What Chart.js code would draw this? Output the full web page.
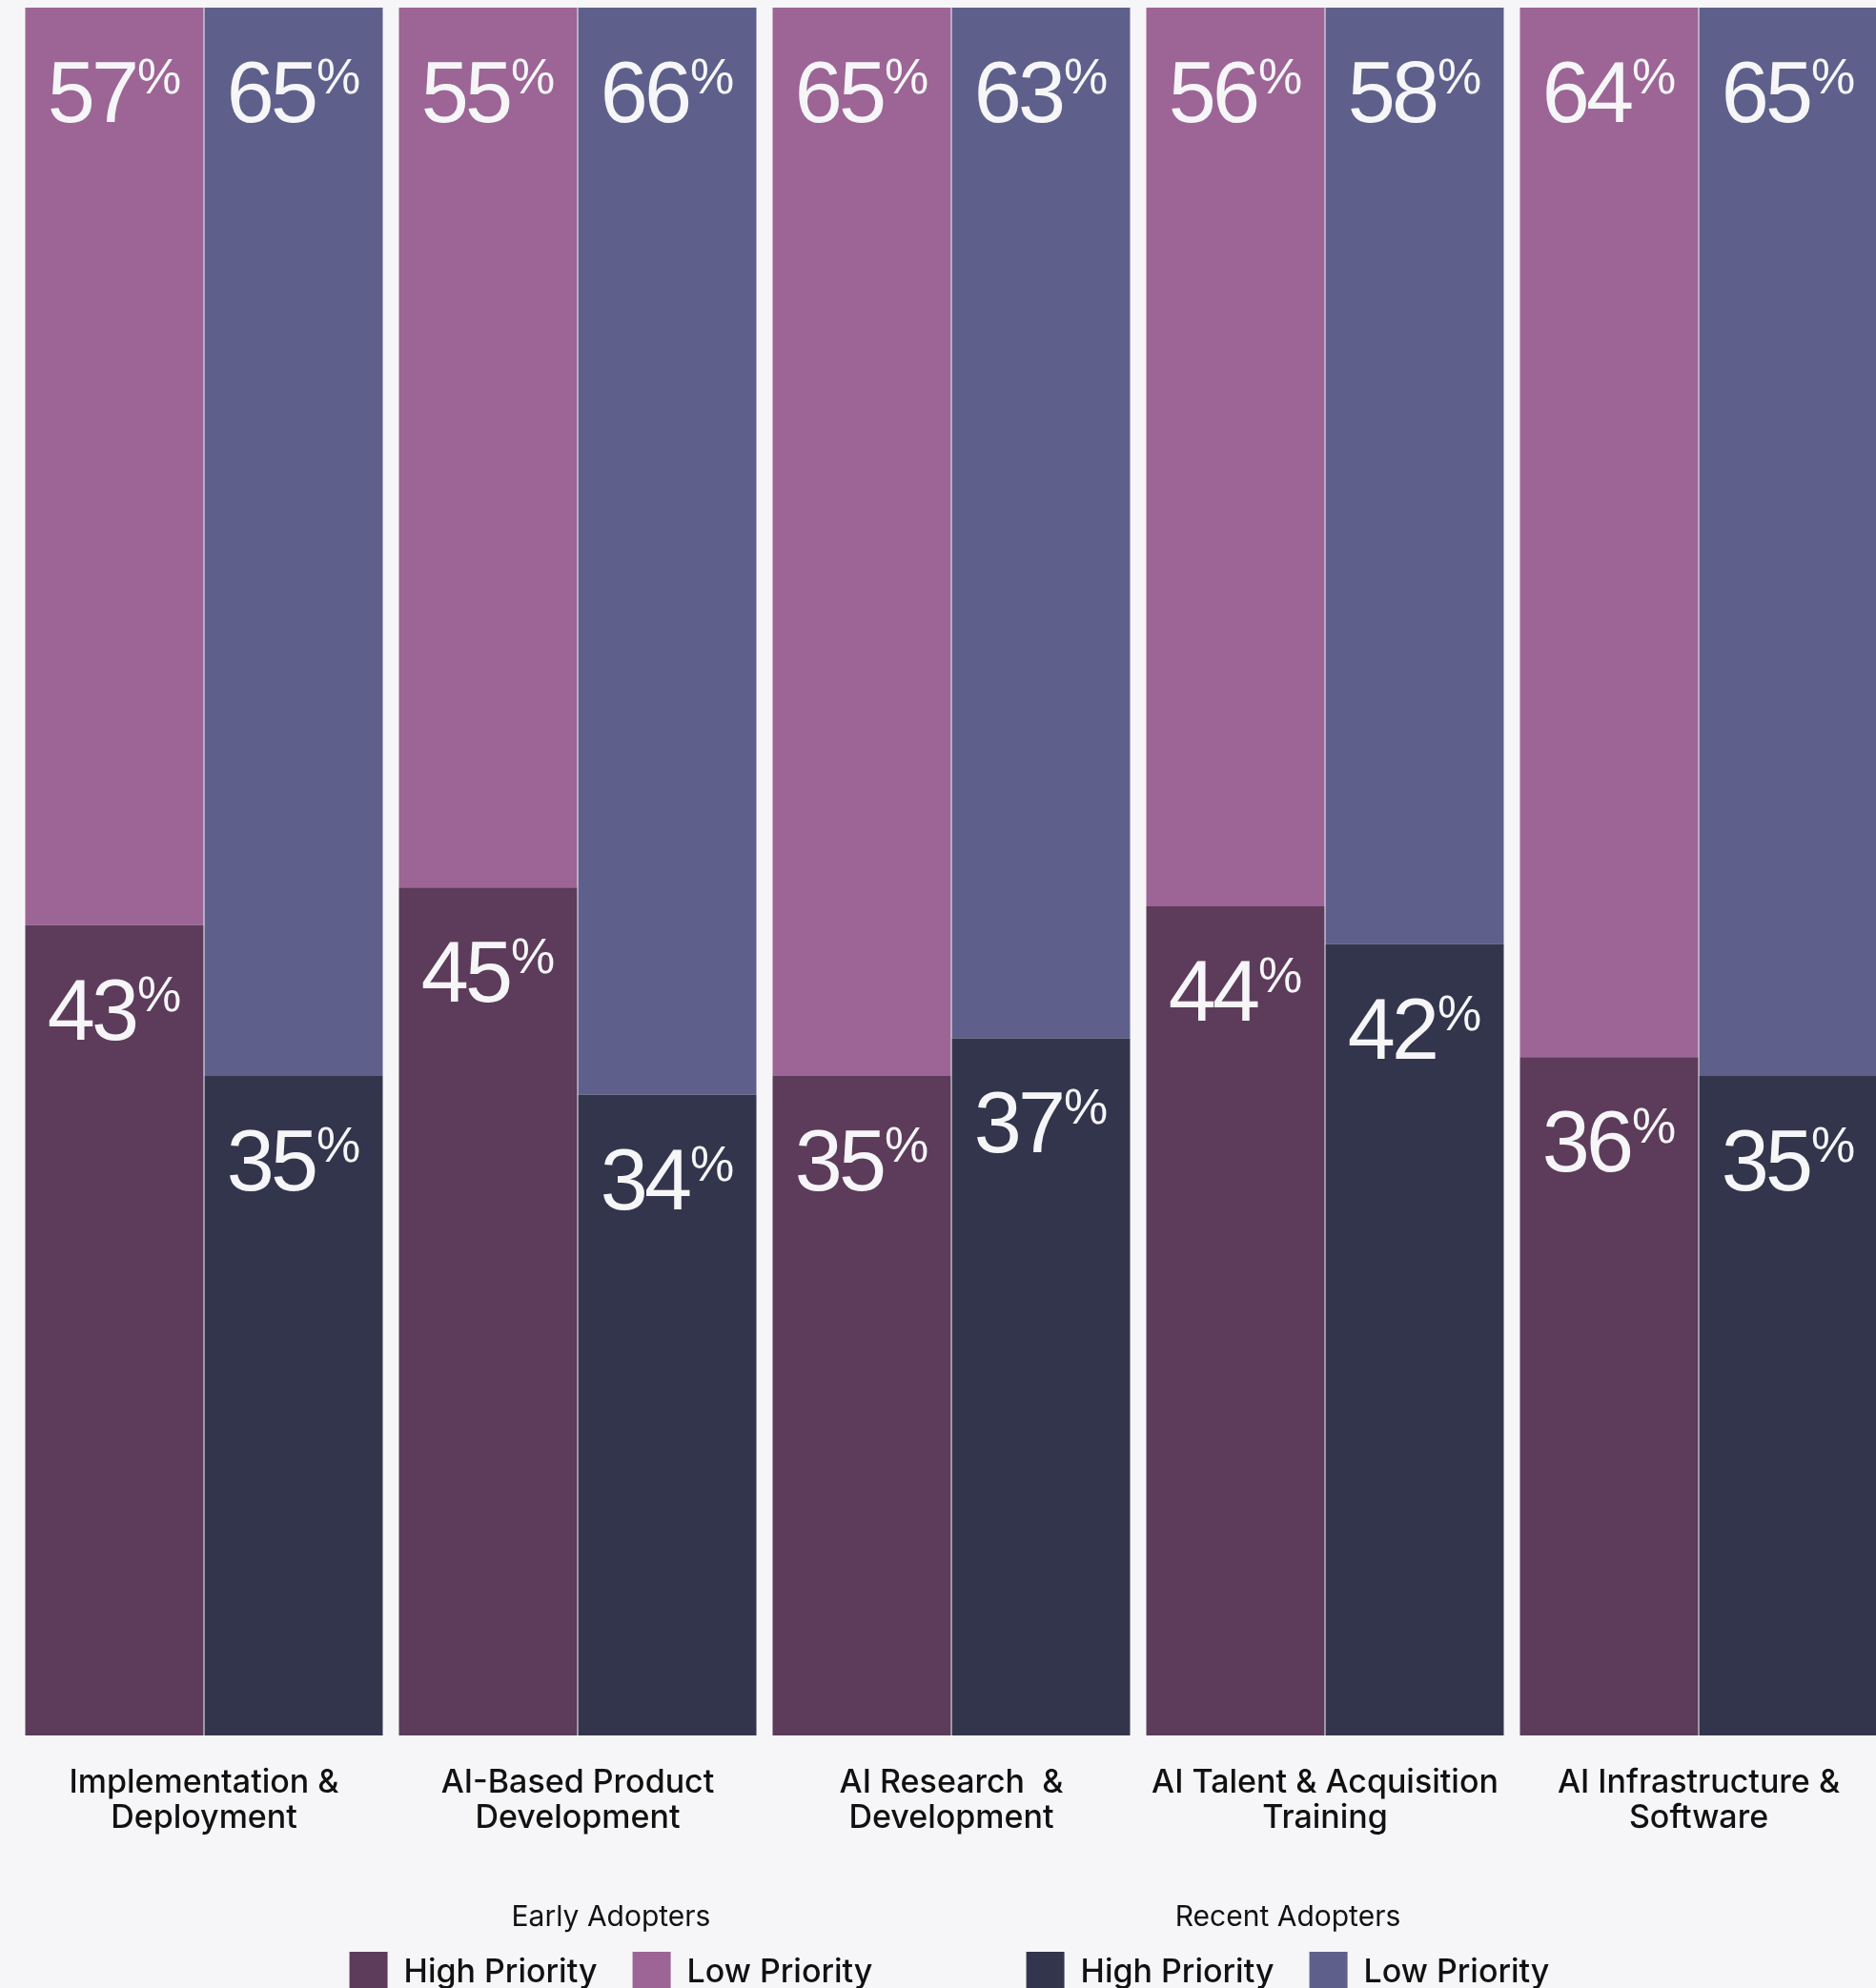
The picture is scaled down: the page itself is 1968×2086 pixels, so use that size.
<!DOCTYPE html>
<html lang="en">
<head>
  <meta charset="UTF-8" />
  <title>AI Investment Priorities</title>
  <style>
    html, body { margin: 0; padding: 0; overflow: hidden; background: #f6f6f8; }
    .wrap { position: relative; width: 1978px; height: 2086px; }
    .legend { position: absolute; top: 1995px; transform: translateX(-50%); font-family: Inter, sans-serif; color: #111; text-align: center; white-space: nowrap; }
    .legend .title { font-size: 30px; line-height: 30px; margin-bottom: 23px; }
    .legend .row { display: flex; justify-content: center; align-items: flex-start; }
    .legend .item { display: flex; align-items: flex-start; font-size: 34px; line-height: 40px; font-weight: 500; }
    .legend .item + .item { margin-left: 37px; }
    .legend .sw { width: 40px; height: 40px; margin-right: 17px; }
  </style>
</head>
<body>
  <div class="wrap">
    <canvas id="priorityChart"></canvas>

    <!-- Legend -->
    <div class="legend" style="left: 641px;">
      <div class="title">Early Adopters</div>
      <div class="row">
        <div class="item"><span class="sw" style="background:#5d3b5a"></span>High Priority</div>
        <div class="item"><span class="sw" style="background:#9c6596"></span>Low Priority</div>
      </div>
    </div>
    <div class="legend" style="left: 1351px;">
      <div class="title">Recent Adopters</div>
      <div class="row">
        <div class="item"><span class="sw" style="background:#33354c"></span>High Priority</div>
        <div class="item"><span class="sw" style="background:#5e608b"></span>Low Priority</div>
      </div>
    </div>
  </div>

  <script src="https://cdn.jsdelivr.net/npm/chart.js"></script>
  <script>
    const categories = [
      ['Implementation &', 'Deployment'],
      ['AI-Based Product', 'Development'],
      ['AI Research  &', 'Development'],
      ['AI Talent & Acquisition', 'Training'],
      ['AI Infrastructure &', 'Software']
    ];
    const earlyHigh = [43, 45, 35, 44, 36];
    const earlyLow = [57, 55, 65, 56, 64];
    const recentHigh = [35, 34, 37, 42, 35];
    const recentLow = [65, 66, 63, 58, 65];

    // top of the plot cuts through the low-priority segments
    const yMax = 91.7;

    // percentage labels: big number plus small raised "%"
    const valueLabels = {
      id: 'valueLabels',
      afterDatasetsDraw(chart) {
        const { ctx, chartArea } = chart;
        const bigFont = '90px "Liberation Sans", Arial, sans-serif';
        const smallFont = '52px "Liberation Sans", Arial, sans-serif';
        ctx.save();
        ctx.fillStyle = '#f6f6f8';
        ctx.textAlign = 'left';
        ctx.textBaseline = 'alphabetic';
        chart.data.datasets.forEach((ds, i) => {
          chart.getDatasetMeta(i).data.forEach((bar, j) => {
            const top = Math.max(bar.y, chartArea.top);
            const num = String(ds.data[j]);
            ctx.font = bigFont;
            ctx.letterSpacing = '-4px';
            const w1 = ctx.measureText(num).width;
            ctx.font = smallFont;
            ctx.letterSpacing = '0px';
            const w2 = ctx.measureText('%').width;
            const gap = 2;
            const x = bar.x - (w1 + gap + w2) / 2;
            ctx.font = bigFont;
            ctx.letterSpacing = '-4px';
            ctx.fillText(num, x, top + 54 + 66);
            ctx.font = smallFont;
            ctx.letterSpacing = '0px';
            ctx.fillText('%', x + w1 + gap, top + 52 + 38);
          });
        });
        ctx.restore();
      }
    };

    Chart.defaults.font.family = 'Inter, sans-serif';

    const ctx = document.getElementById('priorityChart').getContext('2d');
    new Chart(ctx, {
      type: 'bar',
      data: {
        labels: categories,
        datasets: [
          { label: 'High Priority', data: earlyHigh, backgroundColor: '#5d3b5a', stack: 'early' },
          { label: 'Low Priority', data: earlyLow, backgroundColor: '#9c6596', stack: 'early' },
          { label: 'High Priority', data: recentHigh, backgroundColor: '#33354c', stack: 'recent' },
          { label: 'Low Priority', data: recentLow, backgroundColor: '#5e608b', stack: 'recent' }
        ]
      },
      options: {
        responsive: true,
        maintainAspectRatio: false,
        animation: false,
        categoryPercentage: 376 / 392,
        barPercentage: 187 / 188,
        layout: { padding: { top: 8, left: 18, right: 0, bottom: 0 } },
        plugins: {
          legend: { display: false },
          tooltip: { enabled: false }
        },
        scales: {
          x: {
            stacked: true,
            grid: { display: false, drawTicks: false },
            border: { display: false },
            ticks: {
              color: '#111',
              padding: 31,
              maxRotation: 0,
              autoSkip: false,
              font: { size: 34, weight: '500', lineHeight: 37 / 34 }
            },
            afterFit(scale) { scale.height = 265; }
          },
          y: {
            stacked: true,
            display: false,
            min: 0,
            max: yMax
          }
        }
      },
      plugins: [valueLabels]
    });
  </script>
</body>
</html>
